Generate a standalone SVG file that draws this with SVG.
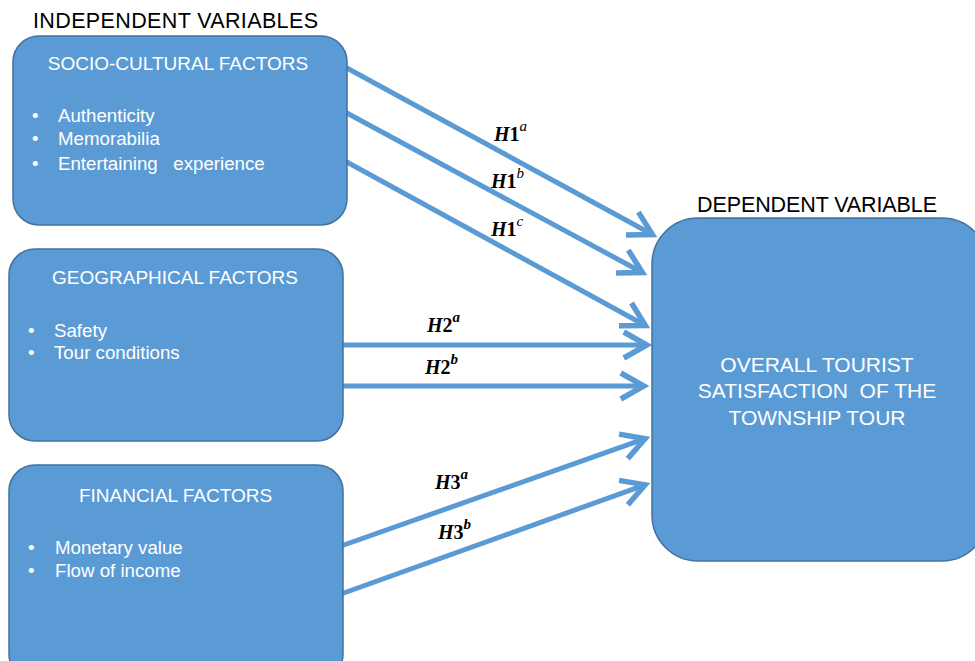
<svg xmlns="http://www.w3.org/2000/svg" width="975" height="661" viewBox="0 0 975 661">
<style>
.box{fill:#5B9BD5;stroke:#41719C;stroke-width:1.5}
.hdr{font-family:"Liberation Sans",Arial,sans-serif;font-size:21.5px;fill:#000}
.ttl{font-family:"Liberation Sans",Arial,sans-serif;font-size:19px;fill:#fff}
.itm{font-family:"Liberation Sans",Arial,sans-serif;font-size:18.7px;fill:#fff}
.dep{font-family:"Liberation Sans",Arial,sans-serif;font-size:21px;fill:#fff}
.conn{stroke:#5B9BD5;stroke-width:5;fill:none;marker-end:url(#arr)}
.lbl{font-family:"Liberation Serif","Times New Roman",serif;font-size:20px;font-weight:bold;fill:#000}
.lbl .v{font-style:italic}
.lbl .s{font-style:italic;font-size:15px}
.lbl .sn{font-style:italic;font-size:15px;font-weight:normal}
</style>
<defs>
<marker id="arr" markerUnits="userSpaceOnUse" markerWidth="34" markerHeight="32" viewBox="0 0 34 32" refX="25" refY="16" orient="auto" overflow="visible">
<path d="M2,3 L25,16 L2,29" fill="none" stroke="#5B9BD5" stroke-width="5.5" stroke-linejoin="miter"/>
</marker>
</defs>
<rect width="975" height="661" fill="#fff"/>
<text class="hdr" x="33" y="28" textLength="285">INDEPENDENT VARIABLES</text>
<text class="hdr" x="697" y="212" textLength="240">DEPENDENT VARIABLE</text>
<g id="connectors">
<path class="conn" d="M345,67 L652.4,234.5"/>
<path class="conn" d="M345,112 L642.4,272.5"/>
<path class="conn" d="M345,161 L645.4,325.5"/>
<path class="conn" d="M341,345 L646.8,345"/>
<path class="conn" d="M341,386 L643.8,386"/>
<path class="conn" d="M341,546 L645.1,438.7"/>
<path class="conn" d="M341,594 L645.1,484.8"/>
</g>
<g id="labels">
<text class="lbl" x="494" y="141"><tspan class="v">H</tspan>1<tspan class="sn" dy="-10">a</tspan></text>
<text class="lbl" x="491" y="188"><tspan class="v">H</tspan>1<tspan class="sn" dy="-10">b</tspan></text>
<text class="lbl" x="491" y="236"><tspan class="v">H</tspan>1<tspan class="sn" dy="-10">c</tspan></text>
<text class="lbl" x="427" y="332"><tspan class="v">H</tspan>2<tspan class="s" dy="-10">a</tspan></text>
<text class="lbl" x="425" y="374"><tspan class="v">H</tspan>2<tspan class="s" dy="-10">b</tspan></text>
<text class="lbl" x="435" y="489"><tspan class="v">H</tspan>3<tspan class="s" dy="-10">a</tspan></text>
<text class="lbl" x="438" y="539"><tspan class="v">H</tspan>3<tspan class="s" dy="-10">b</tspan></text>
</g>
<g id="socio">
<rect class="box" x="13" y="36" width="334" height="189" rx="26"/>
<text class="ttl" x="178" y="69.5" text-anchor="middle">SOCIO-CULTURAL FACTORS</text>
<text class="itm" x="32" y="121.5">•</text><text class="itm" x="58" y="121.5">Authenticity</text>
<text class="itm" x="32" y="145">•</text><text class="itm" x="58" y="145">Memorabilia</text>
<text class="itm" x="32" y="170">•</text><text class="itm" x="58" y="170" xml:space="preserve">Entertaining   experience</text>
</g>
<g id="geo">
<rect class="box" x="9" y="249" width="334" height="192" rx="26"/>
<text class="ttl" x="175" y="283.5" text-anchor="middle">GEOGRAPHICAL FACTORS</text>
<text class="itm" x="28" y="336.5">•</text><text class="itm" x="54" y="336.5">Safety</text>
<text class="itm" x="28" y="359">•</text><text class="itm" x="54" y="359">Tour conditions</text>
</g>
<g id="financial">
<rect class="box" x="9" y="465" width="334" height="215" rx="26"/>
<text class="ttl" x="175.5" y="501.5" text-anchor="middle">FINANCIAL FACTORS</text>
<text class="itm" x="28" y="554">•</text><text class="itm" x="55" y="554">Monetary value</text>
<text class="itm" x="28" y="577">•</text><text class="itm" x="55" y="577">Flow of income</text>
</g>
<g id="dependent">
<rect class="box" x="652" y="218" width="336" height="343" rx="46"/>
<text class="dep" x="817" y="371.5" text-anchor="middle">OVERALL TOURIST</text>
<text class="dep" x="817" y="398" text-anchor="middle" xml:space="preserve">SATISFACTION  OF THE</text>
<text class="dep" x="817" y="424.5" text-anchor="middle">TOWNSHIP TOUR</text>
</g>
</svg>
